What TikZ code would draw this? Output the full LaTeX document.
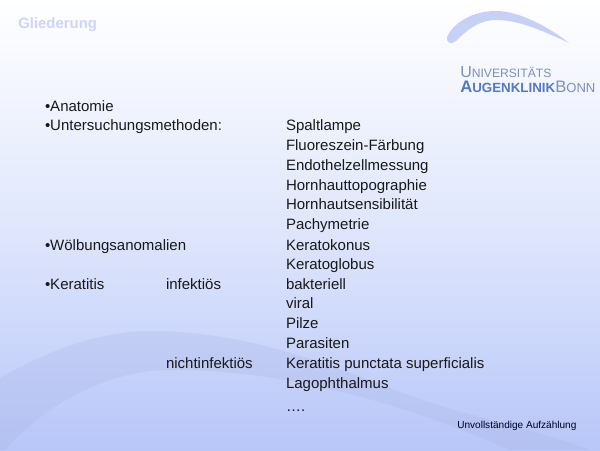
\documentclass[tikz,border=0pt]{standalone}
\usepackage{fontspec}
\setmainfont{Liberation Sans}
\definecolor{bgtop}{RGB}{255,255,255}
\definecolor{bgmid}{RGB}{224,231,252}
\definecolor{bgbot}{RGB}{184,198,248}
\definecolor{swoosh}{RGB}{198,209,245}
\definecolor{logotxt}{RGB}{125,142,185}
\definecolor{logobold}{RGB}{85,120,190}
\definecolor{titlec}{RGB}{205,212,248}
\definecolor{bandc}{RGB}{168,180,228}
\tikzset{
 item/.style={anchor=base west,font=\fontsize{11.25pt}{12pt}\selectfont,text=black!90,inner sep=0pt,outer sep=0pt},
}
\begin{document}
\begin{tikzpicture}[x=0.75pt,y=-0.75pt]
\useasboundingbox (0,0) rectangle (600,450);
\shade[top color=bgtop,bottom color=bgbot,middle color=bgmid] (0,0) rectangle (600,450);
% faint band
\fill[bandc,opacity=.25] (0,378) .. controls (50,350) and (100,331) .. (150,331)
  .. controls (240,331) and (320,360) .. (400,392) .. controls (470,418) and (540,430) .. (590,450)
  -- (510,450) .. controls (430,415) and (300,368) .. (165,370)
  .. controls (100,372) and (40,410) .. (5,450) -- (0,450) -- cycle;
% swoosh
\fill[swoosh] (447,37) .. controls (452,25) and (470,11) .. (496,11) .. controls (520,11) and (550,28) .. (569,43) .. controls (545,32) and (520,20) .. (496,20) .. controls (478,20) and (465,32) .. (456,41) .. controls (451,45) and (446,43) .. (447,37) -- cycle;
\node[anchor=base west,inner sep=0pt,text=logotxt,font=\fontsize{12pt}{13pt}\selectfont] (l1) at (460,77.5) {U\fontsize{9.1pt}{12pt}\selectfont NIVERSITÄTS};
\node[anchor=base west,inner sep=0pt,text=logobold,font=\bfseries\fontsize{12.5pt}{13pt}\selectfont] (l2) at (460,92.5) {A\fontsize{10pt}{12pt}\selectfont UGENKLINIK\mdseries\textcolor{logotxt}{\fontsize{12.5pt}{13pt}\selectfont B\fontsize{9.8pt}{12pt}\selectfont ONN}};
\node[anchor=base west,inner sep=0pt,text=titlec,font=\bfseries\fontsize{11.2pt}{13pt}\selectfont] (title) at (18,28.5) {Gliederung};
\node[item] (a1) at (45,111) {•Anatomie};
\node[item] (a2) at (45,130.5) {•Untersuchungsmethoden:};
\node[item] (a3) at (45,250) {•Wölbungsanomalien};
\node[item] (a4) at (45,289) {•Keratitis};
\node[item] (b1) at (166,289) {infektiös};
\node[item] (b2) at (166,368) {nichtinfektiös};
\node[item] (c1) at (286,130.5) {Spaltlampe};
\node[item] (c2) at (286,150) {Fluoreszein-Färbung};
\node[item] (c3) at (286,170) {Endothelzellmessung};
\node[item] (c4) at (286,190) {Hornhauttopographie};
\node[item] (c5) at (286,209.5) {Hornhautsensibilität};
\node[item] (c6) at (286,229.5) {Pachymetrie};
\node[item] (c7) at (286,250) {Keratokonus};
\node[item] (c8) at (286,269) {Keratoglobus};
\node[item] (c9) at (286,289) {bakteriell};
\node[item] (c10) at (286,308.5) {viral};
\node[item] (c11) at (286,328.5) {Pilze};
\node[item] (c12) at (286,348) {Parasiten};
\node[item] (c13) at (286,368) {Keratitis punctata superficialis};
\node[item] (c14) at (286,388) {Lagophthalmus};
\node[item] (c15) at (286,411) {….};
\node[anchor=base west,inner sep=0pt,text=black!85!blue,font=\fontsize{7.55pt}{9pt}\selectfont] (foot) at (457,428.5) {Unvollständige Aufzählung};
\end{tikzpicture}
\end{document}
